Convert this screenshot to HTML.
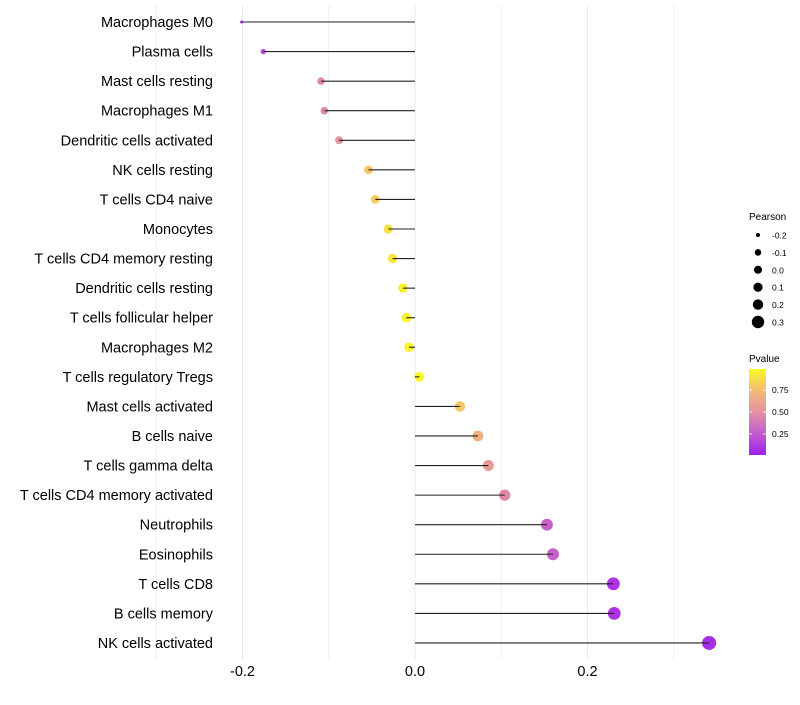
<!DOCTYPE html>
<html><head><meta charset="utf-8"><style>
body{margin:0;background:#fff;font-family:"Liberation Sans",sans-serif}
svg text{font-family:"Liberation Sans",sans-serif}
</style></head><body>
<svg id="c" width="800" height="700"></svg>
<script>
const categories=["Macrophages M0","Plasma cells","Mast cells resting","Macrophages M1","Dendritic cells activated","NK cells resting","T cells CD4 naive","Monocytes","T cells CD4 memory resting","Dendritic cells resting","T cells follicular helper","Macrophages M2","T cells regulatory  Tregs ","Mast cells activated","B cells naive","T cells gamma delta","T cells CD4 memory activated","Neutrophils","Eosinophils","T cells CD8","B cells memory","NK cells activated"];
const pearson=[-0.201,-0.176,-0.109,-0.105,-0.088,-0.054,-0.046,-0.031,-0.026,-0.014,-0.010,-0.007,0.005,0.052,0.073,0.085,0.104,0.153,0.160,0.230,0.231,0.341];
const pvalues=[0.03,0.2,0.45,0.45,0.52,0.8,0.82,0.9,0.92,0.97,0.98,0.98,0.99,0.8,0.68,0.55,0.45,0.28,0.27,0.08,0.08,0.05];
const xTicks=[-0.2,0.0,0.2];
const sizeLegend=[-0.2,-0.1,0.0,0.1,0.2,0.3];
const pTicks=[0.25,0.5,0.75];
const NS="http://www.w3.org/2000/svg";
const svg=document.getElementById("c");
const x=v=>415+v*862.5;
const y=i=>22+i*29.57;
const r=v=>1.5+5.5*Math.sqrt(Math.max(0,(v+0.201)/0.542));
function col(p){
 const stops=[[0,[160,32,240]],[0.25,[196,92,207]],[0.5,[228,146,160]],[0.75,[242,187,120]],[1,[250,248,32]]];
 for(let k=1;k<stops.length;k++){if(p<=stops[k][0]){const a=stops[k-1],b=stops[k],t=(p-a[0])/(b[0]-a[0]);return "rgb("+a[1].map((c,j)=>Math.round(c+(b[1][j]-c)*t)).join(",")+")";}}
 return "rgb(250,248,32)";
}
function el(t,a,txt){const e=document.createElementNS(NS,t);for(const k in a)e.setAttribute(k,a[k]);if(txt!==undefined)e.textContent=txt;svg.appendChild(e);return e;}
[-0.3,-0.1,0.1,0.3].forEach(v=>{const g=el("line",{x1:x(v),x2:x(v),y1:5,y2:660,stroke:"#f0f0f0","stroke-width":1});

});
xTicks.forEach(v=>{const g=el("line",{x1:x(v),x2:x(v),y1:5,y2:660,stroke:"#ebebeb","stroke-width":1});


const t=el("text",{x:x(v),y:676,"text-anchor":"middle","font-size":14.5,fill:"#000"},v.toFixed(1));

});
categories.forEach((c,i)=>{
 const t=el("text",{x:213,y:y(i)+5,"text-anchor":"end","font-size":14.5,fill:"#000"},c);
 
 
 const d=el("circle",{cx:x(pearson[i]),cy:y(i),r:r(pearson[i]),fill:col(pvalues[i])});
 
 
 const l=el("line",{x1:x(0),x2:x(pearson[i]),y1:y(i),y2:y(i),stroke:"#222","stroke-width":1.1});
 
 
});
const st=el("text",{x:749,y:220,"font-size":10},"Pearson");


const legR=[2,3.3,4,4.6,5.2,6.2];
sizeLegend.forEach((v,i)=>{const cy=235+i*17.4;
 const c=el("circle",{cx:758,cy:cy,r:legR[i],fill:"#000"});
 
 
 const t=el("text",{x:772,y:cy+3.5,"font-size":8.5},v.toFixed(1));
 
 });
const ct=el("text",{x:749,y:362,"font-size":10},"Pvalue");


const defs=el("defs",{});
const lg=document.createElementNS(NS,"linearGradient");lg.setAttribute("id","g");lg.setAttribute("x1","0");lg.setAttribute("y1","1");lg.setAttribute("x2","0");lg.setAttribute("y2","0");defs.appendChild(lg);
for(let k=0;k<=10;k++){const s=document.createElementNS(NS,"stop");s.setAttribute("offset",k/10);s.setAttribute("stop-color",col(k/10));lg.appendChild(s);}
const bar=el("rect",{x:749,y:369,width:17,height:86,fill:"url(#g)"});


const py=p=>455-(p-0.01)/0.98*86;
pTicks.forEach(p=>{
 el("line",{x1:749,x2:752,y1:py(p),y2:py(p),stroke:"#fff","stroke-width":0.8});
 el("line",{x1:763,x2:766,y1:py(p),y2:py(p),stroke:"#fff","stroke-width":0.8});
 const t=el("text",{x:772,y:py(p)+3,"font-size":8.5},p.toFixed(2));
 
 });
</script>
</body></html>
